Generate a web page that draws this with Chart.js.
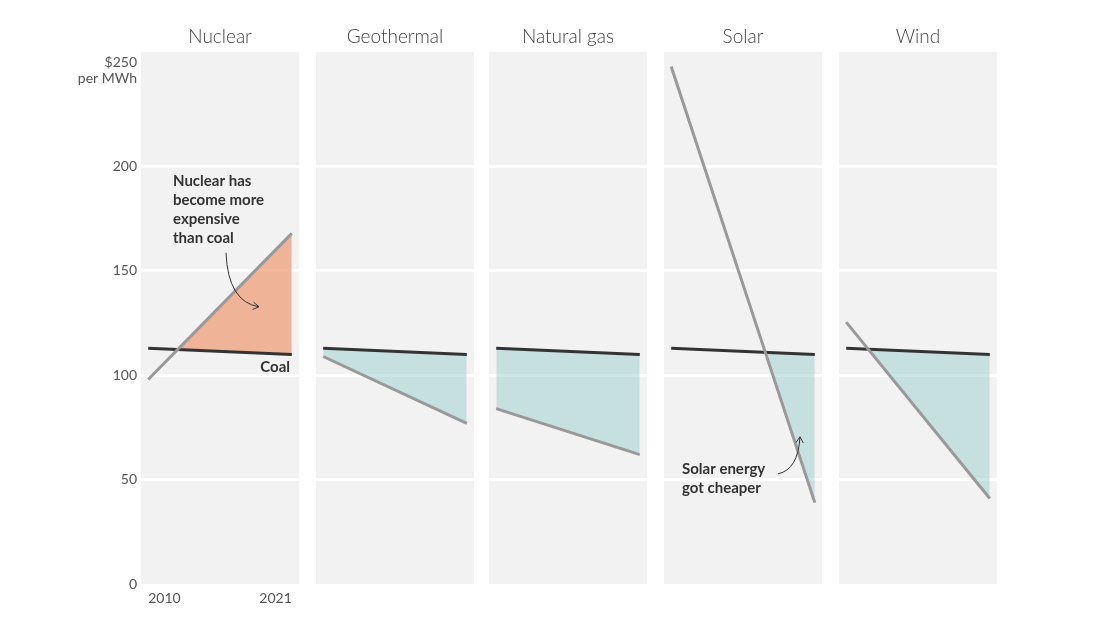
<!DOCTYPE html>
<html lang="en">
<head>
<meta charset="UTF-8" />
<title>Electricity cost compared with coal</title>
<script src="https://cdn.jsdelivr.net/npm/chart.js"></script>
<style>
  body { margin: 0; background: #fff; }
  #wrap { position: relative; width: 1100px; height: 627px; }
  .panel { position: absolute; top: 0; height: 627px; }
</style>
</head>
<body>
<div id="wrap"></div>
<script>
  // data ($ per MWh)
  const years = [2010, 2021];
  const sources = ['Nuclear', 'Geothermal', 'Natural gas', 'Solar', 'Wind'];
  const coal = [113, 110];
  const nuclear = [98, 168];
  const geothermal = [109, 77];
  const naturalGas = [84, 62];
  const solar = [248, 39];
  const wind = [125.5, 41];
  const yTicks = [0, 50, 100, 150, 200, 250];

  const series = [nuclear, geothermal, naturalGas, solar, wind];

  // layout
  const panelLeft = [141, 316, 489, 664, 839];
  const panelW = 158;
  const axisW = 70;
  const FONT = 'Lato, "Source Sans Pro", "Open Sans", sans-serif';
  const ABOVE = 'rgba(237,137,92,0.6)';
  const BELOW = 'rgba(160,209,207,0.55)';

  Chart.defaults.font.family = FONT;

  const panelBg = {
    id: 'panelBg',
    beforeDraw(chart) {
      const a = chart.chartArea, ctx = chart.ctx;
      ctx.save();
      ctx.fillStyle = '#f2f2f2';
      ctx.fillRect(a.left, a.top, a.right - a.left, a.bottom - a.top);
      ctx.restore();
    }
  };

  function arrow(ctx, x0, y0, cx, cy, x1, y1) {
    ctx.beginPath();
    ctx.moveTo(x0, y0);
    ctx.quadraticCurveTo(cx, cy, x1, y1);
    ctx.stroke();
    const ang = Math.atan2(y1 - cy, x1 - cx);
    ctx.beginPath();
    ctx.moveTo(x1 - 7 * Math.cos(ang - 0.55), y1 - 7 * Math.sin(ang - 0.55));
    ctx.lineTo(x1, y1);
    ctx.lineTo(x1 - 7 * Math.cos(ang + 0.55), y1 - 7 * Math.sin(ang + 0.55));
    ctx.stroke();
  }

  const notes = {
    id: 'notes',
    afterDraw(chart) {
      const i = chart.options.plugins.notes.index;
      const a = chart.chartArea, ctx = chart.ctx;
      ctx.save();
      ctx.fillStyle = '#333';
      ctx.strokeStyle = '#333';
      ctx.lineWidth = 1;
      ctx.font = 'bold 15px ' + FONT;
      ctx.textBaseline = 'middle';
      if (i === 0) {
        ['Nuclear has', 'become more', 'expensive', 'than coal'].forEach((t, k) => {
          ctx.fillText(t, a.left + 32, a.top + 129 + k * 19);
        });
        arrow(ctx, a.left + 85, a.top + 201, a.left + 87, a.top + 250, a.left + 118, a.top + 255);
        ctx.textAlign = 'right';
        ctx.fillText('Coal', a.left + 149, a.top + 315);
        // unit under the top tick
        const y = chart.scales.y;
        ctx.font = '14px ' + FONT;
        ctx.fillStyle = '#555';
        ctx.fillText('per MWh', a.left - 4, y.getPixelForValue(250) + 16);
      }
      if (i === 3) {
        ctx.fillText('Solar energy', a.left + 18, a.top + 417);
        ctx.fillText('got cheaper', a.left + 18, a.top + 436);
        arrow(ctx, a.left + 114, a.top + 422, a.left + 134, a.top + 418, a.left + 136, a.top + 385);
      }
      ctx.restore();
    }
  };

  const wrap = document.getElementById('wrap');

  sources.forEach((name, i) => {
    const first = i === 0;
    const div = document.createElement('div');
    div.className = 'panel';
    div.style.left = (panelLeft[i] - (first ? axisW : 0)) + 'px';
    div.style.width = (panelW + (first ? axisW : 0)) + 'px';
    const canvas = document.createElement('canvas');
    div.appendChild(canvas);
    wrap.appendChild(div);

    new Chart(canvas, {
      type: 'line',
      data: {
        datasets: [
          {
            label: name,
            data: years.map((x, k) => ({ x: x, y: series[i][k] })),
            borderColor: '#999',
            borderWidth: 3,
            pointRadius: 0,
            fill: { target: 1, above: first ? ABOVE : 'rgba(0,0,0,0)', below: first ? 'rgba(0,0,0,0)' : BELOW }
          },
          {
            label: 'Coal',
            data: years.map((x, k) => ({ x: x, y: coal[k] })),
            borderColor: '#333',
            borderWidth: 3,
            pointRadius: 0,
            fill: false
          }
        ]
      },
      options: {
        responsive: true,
        maintainAspectRatio: false,
        animation: false,
        layout: { padding: 0 },
        scales: {
          x: {
            type: 'linear',
            min: 2009.45,
            max: 2021.55,
            afterBuildTicks: s => { s.ticks = years.map(v => ({ value: v })); },
            afterFit: s => { s.height = 43; },
            grid: { display: false, drawTicks: false },
            border: { display: false },
            ticks: {
              display: first,
              align: 'inner',
              padding: 6,
              maxRotation: 0,
              color: '#555',
              font: { size: 14 },
              callback: v => String(v)
            }
          },
          y: {
            min: 0,
            max: 255,
            afterBuildTicks: s => { s.ticks = yTicks.map(v => ({ value: v })); },
            afterFit: s => { s.width = first ? axisW : 0; },
            border: { display: false },
            grid: {
              drawTicks: false,
              lineWidth: 3,
              color: c => (c.tick && c.tick.value > 0 && c.tick.value < 250) ? '#fff' : 'rgba(0,0,0,0)'
            },
            ticks: {
              display: first,
              padding: 4,
              color: '#555',
              font: { size: 14 },
              callback: v => v === 250 ? '$250' : String(v)
            }
          }
        },
        plugins: {
          legend: { display: false },
          tooltip: { enabled: false },
          filler: { drawTime: 'beforeDatasetsDraw' },
          title: {
            display: true,
            text: name,
            fullSize: false,
            color: '#444',
            font: { size: 19, weight: '300' },
            padding: { top: 25, bottom: 4 }
          },
          notes: { index: i }
        }
      },
      plugins: [panelBg, notes]
    });
  });
</script>
</body>
</html>
